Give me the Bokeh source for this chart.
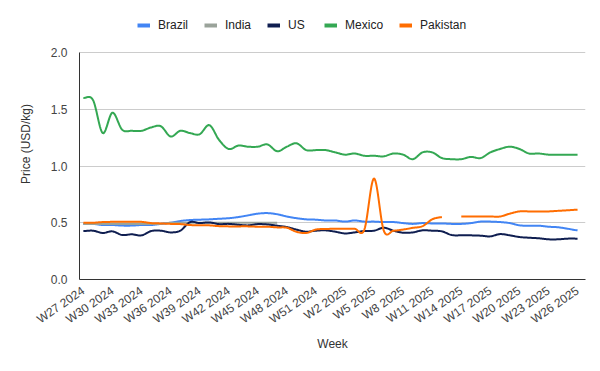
import math
import numpy as np
from bokeh.plotting import figure
from bokeh.models import (FixedTicker, Legend, LegendItem,
                          Range1d, NumeralTickFormatter)
from bokeh.embed import file_html
from bokeh.resources import INLINE

# ---------------- data ----------------
weeks = ["W27 2024", "W28 2024", "W29 2024", "W30 2024", "W31 2024", "W32 2024",
         "W33 2024", "W34 2024", "W35 2024", "W36 2024", "W37 2024", "W38 2024",
         "W39 2024", "W40 2024", "W41 2024", "W42 2024", "W43 2024", "W44 2024",
         "W45 2024", "W46 2024", "W47 2024", "W48 2024", "W49 2024", "W50 2024",
         "W51 2024", "W52 2024", "W1 2025", "W2 2025", "W3 2025", "W4 2025",
         "W5 2025", "W6 2025", "W7 2025", "W8 2025", "W9 2025", "W10 2025",
         "W11 2025", "W12 2025", "W13 2025", "W14 2025", "W15 2025", "W16 2025",
         "W17 2025", "W18 2025", "W19 2025", "W20 2025", "W21 2025", "W22 2025",
         "W23 2025", "W24 2025", "W25 2025", "W26 2025"]

brazil = [0.49, 0.49, 0.48, 0.48, 0.475, 0.475, 0.48, 0.48, 0.49, 0.50,
          0.515, 0.524, 0.527, 0.53, 0.535, 0.54, 0.55, 0.565, 0.58, 0.585,
          0.575, 0.555, 0.54, 0.53, 0.527, 0.52,
          0.52, 0.51, 0.52, 0.51, 0.51, 0.506, 0.506, 0.497, 0.49, 0.497,
          0.494, 0.494, 0.49, 0.49, 0.497, 0.51, 0.51, 0.506, 0.497, 0.477,
          0.474, 0.474, 0.465, 0.46, 0.447, 0.433]

nan = float("nan")
india = [0.49, 0.49, 0.49, 0.49, 0.49, 0.49, 0.49, 0.49, 0.49, 0.50,
         0.50, 0.50, 0.50, 0.50, 0.50, 0.50, 0.50, 0.50, 0.50, 0.50,
         0.50] + [nan] * 31

us = [0.427, 0.43, 0.41, 0.424, 0.392, 0.398, 0.389, 0.427, 0.43, 0.415,
      0.43, 0.505, 0.497, 0.503, 0.488, 0.49, 0.482, 0.477, 0.488, 0.485,
      0.474, 0.462, 0.439, 0.421, 0.43, 0.433,
      0.421, 0.406, 0.415, 0.427, 0.43, 0.456, 0.43, 0.412, 0.415, 0.433,
      0.43, 0.424, 0.392, 0.389, 0.389, 0.386, 0.38, 0.40, 0.389, 0.374,
      0.368, 0.363, 0.354, 0.354, 0.36, 0.36]

mexico = [1.60, 1.58, 1.29, 1.47, 1.32, 1.31, 1.31, 1.34, 1.35, 1.26,
          1.31, 1.29, 1.28, 1.36, 1.23, 1.15, 1.18, 1.17, 1.17, 1.19,
          1.13, 1.17, 1.20, 1.14, 1.14, 1.14,
          1.12, 1.10, 1.11, 1.09, 1.09, 1.085, 1.11, 1.10, 1.06, 1.12,
          1.12, 1.07, 1.06, 1.06, 1.08, 1.07, 1.12, 1.15, 1.17, 1.15,
          1.11, 1.11, 1.10, 1.10, 1.10, 1.10]

pakistan = [0.50, 0.50, 0.506, 0.508, 0.508, 0.508, 0.508, 0.497, 0.494, 0.49,
            0.488, 0.48, 0.477, 0.477, 0.47, 0.468, 0.468, 0.468, 0.465, 0.465,
            0.459, 0.456, 0.42, 0.41, 0.44, 0.445,
            0.447, 0.447, 0.447, 0.44, 0.89, 0.43, 0.43, 0.44, 0.455, 0.47,
            0.53, 0.55, nan, 0.555, 0.555, 0.555, 0.555, 0.555, 0.58, 0.60,
            0.60, 0.60, 0.60, 0.605, 0.61, 0.615]

series = [("Brazil", brazil, "#4285F4"),
          ("India", india, "#9AA39A"),
          ("US", us, "#0F1E50"),
          ("Mexico", mexico, "#34A853"),
          ("Pakistan", pakistan, "#FF6D01")]

tick_idx = list(range(0, len(weeks), 3))
y_ticks = [0, 0.5, 1.0, 1.5, 2.0]


# -------- smooth rendering of each series (Catmull-Rom through the data) --------
def smooth(ys, n=14):
    ys = np.asarray(ys, dtype=float)
    xs = np.arange(len(ys), dtype=float)
    finite = np.isfinite(ys)
    segs, cur = [], []
    for i in range(len(ys)):
        if finite[i]:
            cur.append(i)
        elif cur:
            segs.append(cur)
            cur = []
    if cur:
        segs.append(cur)
    ox, oy = [], []
    for seg in segs:
        L = len(seg)
        for k in range(L - 1):
            i0, i1 = seg[k], seg[k + 1]
            pm = ys[seg[k - 1]] if k > 0 else ys[i0]
            pp = ys[seg[k + 2]] if k + 2 < L else ys[i1]
            m0 = (ys[i1] - pm) / 2.0
            m1 = (pp - ys[i0]) / 2.0
            for t in np.linspace(0, 1, n, endpoint=False):
                h00 = 2 * t**3 - 3 * t**2 + 1
                h10 = t**3 - 2 * t**2 + t
                h01 = -2 * t**3 + 3 * t**2
                h11 = t**3 - t**2
                ox.append(xs[i0] + t * (xs[i1] - xs[i0]))
                oy.append(h00 * ys[i0] + h10 * m0 + h01 * ys[i1] + h11 * m1)
        ox.append(xs[seg[-1]])
        oy.append(ys[seg[-1]])
        ox.append(nan)
        oy.append(nan)
    return ox, oy


# ---------------- figure ----------------
FONT = "Liberation Sans"
W, H = 592, 363
TOP = 8                      # frame top (legend lives inside the frame, above 2.0)
PX_PER_UNIT = (279 - 52) / 2.0
y_top = 2.0 + (52 - TOP) / PX_PER_UNIT
p = figure(width=W, height=H, output_backend="svg", toolbar_location=None,
           x_range=Range1d(-0.4, 51.82), y_range=Range1d(0, y_top),
           min_border_left=79, min_border_right=W - 585, min_border_top=TOP,
           min_border_bottom=H - 279)
p.outline_line_color = None
p.background_fill_color = "white"
p.border_fill_color = "white"

p.xgrid.visible = False
p.ygrid.grid_line_color = "#CCCCCC"
p.ygrid.grid_line_width = 1

p.yaxis.ticker = FixedTicker(ticks=y_ticks)
p.yaxis.bounds = (0, 2.0)
p.yaxis.formatter = NumeralTickFormatter(format="0.0")
p.xaxis.ticker = FixedTicker(ticks=tick_idx)
p.xaxis.major_label_overrides = {i: weeks[i] for i in tick_idx}
p.xaxis.major_label_orientation = 0.6

for ax in (p.xaxis[0], p.yaxis[0]):
    ax.axis_line_color = "#333333"
    ax.axis_line_width = 1
    ax.major_tick_line_color = None
    ax.minor_tick_line_color = None
    ax.major_label_text_font = FONT
    ax.major_label_text_font_size = "12px"
    ax.major_label_text_color = "#444444"
    ax.axis_label_text_font = FONT
    ax.axis_label_text_font_size = "12px"
    ax.axis_label_text_font_style = "normal"
    ax.axis_label_text_color = "#333333"

p.yaxis.axis_label = "Price (USD/kg)"
p.yaxis.major_label_standoff = 6
p.yaxis.axis_label_standoff = 15
p.xaxis.axis_label = "Week"
p.xaxis.major_label_standoff = 4
p.xaxis.axis_label_standoff = 2

items = []
for name, vals, col in series:
    sx, sy = smooth(vals)
    p.line(sx, sy, line_color=col, line_width=2, line_join="round")
    # legend-only renderer (a single empty point, so only its swatch is seen)
    dummy = p.line(x=[nan], y=[nan], line_color=col, line_width=4)
    items.append(LegendItem(label=name, renderers=[dummy]))

legend = Legend(items=items, orientation="horizontal", location=(58, 246),
                glyph_width=13, glyph_height=16, label_height=16,
                label_standoff=8, spacing=16, padding=0, margin=0,
                border_line_color=None, background_fill_alpha=0,
                label_text_font=FONT, label_text_font_size="12px",
                label_text_color="#222222")
p.add_layout(legend)

open("out.html", "w").write(file_html(p, INLINE))
